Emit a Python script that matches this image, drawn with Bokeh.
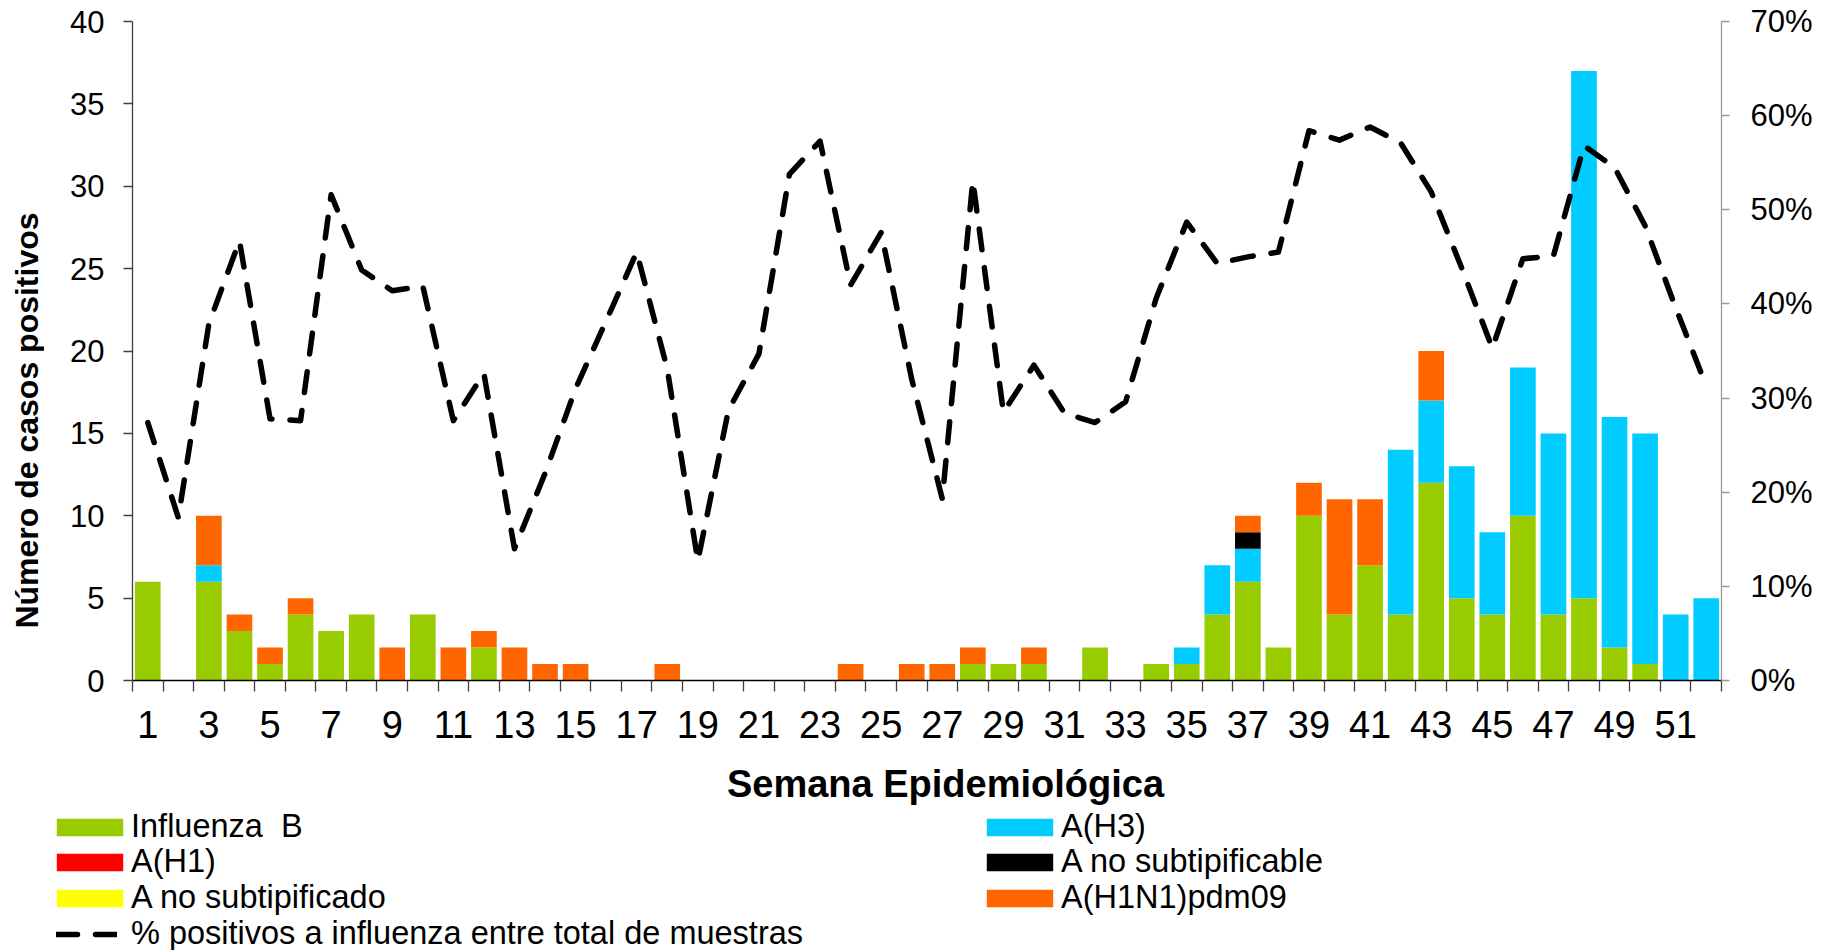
import math
from bokeh.plotting import figure
from bokeh.layouts import row, column
from bokeh.models import Range1d, LinearAxis, FixedTicker, Legend, LegendItem, ColumnDataSource, Label
from bokeh.embed import file_html
from bokeh.resources import INLINE

# ---------------- data ----------------
weeks = list(range(1, 53))
week_tick_labels = [w for w in weeks if w % 2 == 1]

influenza_b = [6, 0, 6, 3, 1, 4, 3, 4, 0, 4,
               0, 2, 0, 0, 0, 0, 0, 0, 0, 0,
               0, 0, 0, 0, 0, 0, 0, 1, 1, 1,
               0, 2, 0, 1, 1, 4, 6, 2, 10, 4,
               7, 4, 12, 5, 4, 10, 4, 5, 2, 1,
               0, 0]
a_h3 = [0, 0, 1, 0, 0, 0, 0, 0, 0, 0,
        0, 0, 0, 0, 0, 0, 0, 0, 0, 0,
        0, 0, 0, 0, 0, 0, 0, 0, 0, 0,
        0, 0, 0, 0, 1, 3, 2, 0, 0, 0,
        0, 10, 5, 8, 5, 9, 11, 32, 14, 14,
        4, 5]
a_h1 = [0] * 52
a_no_subtipificado = [0] * 52
a_no_subtipificable = [0] * 36 + [1] + [0] * 15
a_h1n1pdm09 = [0, 0, 3, 1, 1, 1, 0, 0, 2, 0,
               2, 1, 2, 1, 1, 0, 0, 1, 0, 0,
               0, 0, 0, 1, 0, 1, 1, 1, 0, 1,
               0, 0, 0, 0, 0, 0, 1, 0, 2, 7,
               4, 0, 3, 0, 0, 0, 0, 0, 0, 0,
               0, 0]
pct_positivos = [27.4, 17.3, 37.9, 46.7, 27.8, 27.6, 51.6, 43.6, 41.4, 41.9,
                 27.6, 32.6, 14.0, 22.0, 31.0, 38.2, 45.5, 33.1, 12.7, 28.7,
                 34.7, 53.8, 57.3, 42.0, 47.6, 32.0, 19.3, 53.1, 28.5, 33.5,
                 28.4, 27.4, 29.6, 40.6, 48.7, 44.3, 45.0, 45.5, 58.4, 57.4,
                 58.8, 57.1, 51.9, 43.8, 35.3, 44.8, 45.1, 56.8, 54.5, 48.3,
                 39.6, 31.3]

left_ticks = list(range(0, 41, 5))
right_ticks = list(range(0, 71, 10))

series_names = ["Influenza  B", "A(H3)", "A(H1)", "A no subtipificado",
                "A no subtipificable", "A(H1N1)pdm09"]
series_keys = ["b", "h3", "h1", "nosubtipificado", "nosubtipificable", "pdm09"]
series_colors = ["#99CC00", "#00CCFF", "#FF0000", "#FFFF00", "#000000", "#FF6600"]
line_label = "% positivos a influenza entre total de muestras"
x_title = "Semana Epidemiológica"
y_title = "Número de casos positivos"

FONT = "Liberation Sans"

src = ColumnDataSource(dict(week=weeks, b=influenza_b, h3=a_h3, h1=a_h1,
                            nosubtipificado=a_no_subtipificado,
                            nosubtipificable=a_no_subtipificable,
                            pdm09=a_h1n1pdm09))

LINE_STYLE = dict(line_color="black", line_width=5.5, line_dash="21 18",
                  line_cap="round", line_join="round")

# ---------------- layout sizes ----------------
TITLE_W = 44
MAIN_W = 1787
MAIN_H = 750
LEG_H = 200

# ---------------- main chart ----------------
fig = figure(width=MAIN_W, height=MAIN_H,
             x_range=Range1d(0.5, 52.5), y_range=Range1d(0, 40),
             output_backend="svg", toolbar_location=None,
             min_border_left=88, min_border_right=110,
             min_border_top=21, min_border_bottom=70)
fig.outline_line_color = None
fig.grid.visible = False
fig.extra_y_ranges = {"pct": Range1d(0, 70)}

bars = fig.vbar_stack(series_keys, x="week", width=0.84, source=src,
                      fill_color=series_colors, line_color=None)
line = fig.line(weeks, pct_positivos, y_range_name="pct", **LINE_STYLE)

# x axis
xa = fig.xaxis[0]
boundaries = [w - 0.5 for w in weeks] + [weeks[-1] + 0.5]
xa.ticker = FixedTicker(ticks=week_tick_labels, minor_ticks=boundaries)
xa.major_tick_out = 0
xa.major_tick_in = 0
xa.minor_tick_out = 11
xa.minor_tick_in = 0
xa.minor_tick_line_color = "#404040"
xa.minor_tick_line_width = 1.3
xa.axis_line_color = "black"
xa.axis_line_width = 1.3
xa.major_label_text_font = FONT
xa.major_label_text_font_size = "38px"
xa.major_label_text_color = "black"
xa.major_label_standoff = 19

# left axis
ya = fig.yaxis[0]
ya.ticker = FixedTicker(ticks=left_ticks)
ya.major_tick_out = 9
ya.major_tick_in = 0
ya.minor_tick_out = 0
ya.minor_tick_in = 0
ya.axis_line_color = "#404040"
ya.axis_line_width = 1.3
ya.major_tick_line_color = "#404040"
ya.major_tick_line_width = 1.3
ya.major_label_text_font = FONT
ya.major_label_text_font_size = "31px"
ya.major_label_text_color = "black"
ya.major_label_standoff = 19

# right axis
ra = LinearAxis(y_range_name="pct", ticker=FixedTicker(ticks=right_ticks),
                major_label_overrides={t: f"{t}%" for t in right_ticks})
ra.major_tick_out = 8
ra.major_tick_in = 0
ra.minor_tick_out = 0
ra.minor_tick_in = 0
ra.axis_line_color = "#999999"
ra.axis_line_width = 1.3
ra.major_tick_line_color = "#999999"
ra.major_tick_line_width = 1.3
ra.major_label_text_font = FONT
ra.major_label_text_font_size = "31px"
ra.major_label_text_color = "black"
ra.major_label_standoff = 21
fig.add_layout(ra, "right")

# ---------------- y-title strip ----------------
tfig = figure(width=TITLE_W, height=MAIN_H + LEG_H,
              x_range=Range1d(0, TITLE_W), y_range=Range1d(0, MAIN_H + LEG_H),
              output_backend="svg", toolbar_location=None, min_border=0,
              x_axis_location=None, y_axis_location=None)
tfig.frame_align = False
tfig.outline_line_color = None
tfig.grid.visible = False
tfig.add_layout(Label(x=26, y=MAIN_H + LEG_H - 420, text=y_title, angle=math.pi / 2,
                      text_font=FONT, text_font_size="32px", text_font_style="bold",
                      text_align="center", text_baseline="middle", text_color="black"))

# ---------------- x-title + legend strip ----------------
lfig = figure(width=MAIN_W, height=LEG_H,
              x_range=Range1d(0, MAIN_W), y_range=Range1d(0, LEG_H),
              output_backend="svg", toolbar_location=None, min_border=0,
              x_axis_location=None, y_axis_location=None)
lfig.frame_align = False
lfig.outline_line_color = None
lfig.grid.visible = False
lfig.add_layout(Label(x=901, y=LEG_H - 33, text=x_title,
                      text_font=FONT, text_font_size="38px", text_font_style="bold",
                      text_align="center", text_baseline="middle", text_color="black"))

# legend proxies: same styles as the chart's series, holding only a NaN (nothing drawn)
nan = float("nan")
proxy = {}
for name, col in zip(series_names, series_colors):
    proxy[name] = lfig.vbar(x=[nan], top=[nan], width=0.84, fill_color=col, line_color=None)
proxy_line = lfig.line(x=[nan], y=[nan], **LINE_STYLE)

common = dict(label_text_font=FONT, label_text_font_size="32.5px",
              label_text_color="black", label_height=35,
              padding=0, margin=0, spacing=0,
              border_line_color=None, background_fill_alpha=0)
bar_glyph = dict(glyph_width=83, glyph_height=22, label_standoff=0)
line_glyph = dict(glyph_width=61, glyph_height=14, label_standoff=14)

row_y = [105, 70, 34, -2]          # legend row offsets inside the strip
left_x, line_x, right_x = 4, 12, 934

legend_layout = [
    (series_names[0], proxy[series_names[0]], left_x, 0, bar_glyph),
    (series_names[2], proxy[series_names[2]], left_x, 1, bar_glyph),
    (series_names[3], proxy[series_names[3]], left_x, 2, bar_glyph),
    (line_label, proxy_line, line_x, 3, line_glyph),
    (series_names[1], proxy[series_names[1]], right_x, 0, bar_glyph),
    (series_names[4], proxy[series_names[4]], right_x, 1, bar_glyph),
    (series_names[5], proxy[series_names[5]], right_x, 2, bar_glyph),
]
for label, rend, lx, ri, gstyle in legend_layout:
    lfig.add_layout(Legend(items=[LegendItem(label=label, renderers=[rend])],
                           location=(lx, row_y[ri]), **gstyle, **common))

p = row(tfig, column(fig, lfig))

open("out.html", "w").write(file_html(p, INLINE))
